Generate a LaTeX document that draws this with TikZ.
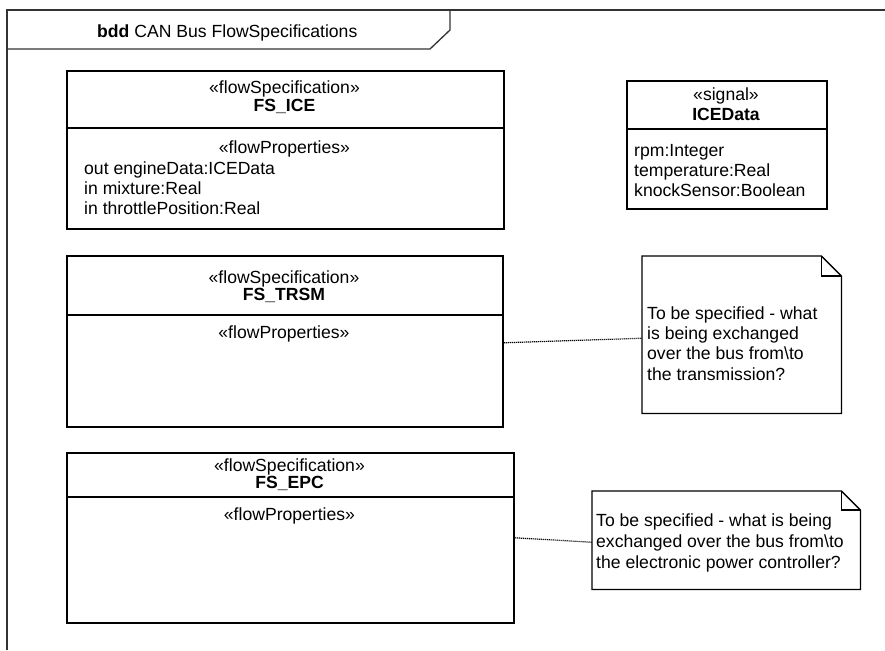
\documentclass[tikz,border=0pt]{standalone}
\usepackage{fontspec}
\setmainfont{Liberation Sans}
\usetikzlibrary{calc}
\begin{document}
\begin{tikzpicture}[x=1pt,y=-1pt,
  blk/.style={draw=black, line width=1.6pt, anchor=north west, inner sep=0pt, fill=white},
  notebox/.style={draw=none, anchor=north west, inner sep=0pt},
  txt/.style={inner sep=0pt, anchor=base, font=\fontsize{17.6}{20}\selectfont},
  ltxt/.style={inner sep=0pt, anchor=base west, font=\fontsize{17.6}{20}\selectfont},
  btxt/.style={inner sep=0pt, anchor=base, font=\fontsize{17.6}{20}\selectfont\bfseries},
  sep/.style={line width=1.3pt},
  noteline/.style={draw=black, line width=1.3pt},
  link/.style={line width=1.2pt, dash pattern=on 1.2pt off 0.8pt}]
\useasboundingbox (0,0) rectangle (885,650);
% frame
\coordinate (fTL) at (7,10);
\coordinate (fTR) at (885,10);
\coordinate (fBL) at (7,650);
\draw[line width=1.3pt, black!80] (fTR) -- (fTL) -- (fBL);
\draw[line width=1.3pt, black!80] (7,49) -- (430,49) -- (450,30) -- (450,10);
\node[ltxt] (title) at (97,38) {\textbf{bdd} CAN Bus FlowSpecifications};

% FS_ICE
\node[blk, minimum width=437pt, minimum height=158pt] (ice) at (66,70) {};
\draw[sep] (66,128) -- (503,128);
\node[txt] (iceS) at (284.5,94) {«flowSpecification»};
\node[btxt] (iceN) at (284.5,112) {FS\_ICE};
\node[txt] (iceP) at (284.5,153) {«flowProperties»};
\node[ltxt] (ice1) at (84,174) {out engineData:ICEData};
\node[ltxt] (ice2) at (84,194) {in mixture:Real};
\node[ltxt] (ice3) at (84,214) {in throttlePosition:Real};

% ICEData signal
\node[blk, minimum width=200pt, minimum height=128pt] (sig) at (626,80) {};
\draw[sep] (626,129) -- (826,129);
\node[txt] (sigS) at (726,100) {«signal»};
\node[btxt] (sigN) at (726,121) {ICEData};
\node[ltxt] (sig1) at (634,156) {rpm:Integer};
\node[ltxt] (sig2) at (634,176) {temperature:Real};
\node[ltxt] (sig3) at (634,196) {knockSensor:Boolean};

% FS_TRSM
\node[blk, minimum width=436pt, minimum height=171pt] (trsm) at (66,255) {};
\draw[sep] (66,315) -- (502,315);
\node[txt] (trsmS) at (284,283) {«flowSpecification»};
\node[btxt] (trsmN) at (284,300) {FS\_TRSM};
\node[txt] (trsmP) at (284,338) {«flowProperties»};

% FS_EPC
\node[blk, minimum width=447pt, minimum height=170pt] (epc) at (66,452) {};
\draw[sep] (66,497) -- (513,497);
\node[txt] (epcS) at (289.5,471) {«flowSpecification»};
\node[btxt] (epcN) at (289.5,488) {FS\_EPC};
\node[txt] (epcP) at (289.5,520) {«flowProperties»};

% Note 1
\node[notebox, minimum width=199pt, minimum height=157pt] (n1) at (642,256) {};
\draw[noteline, fill=white] (n1.north west) -- ($(n1.north east)+(-20,0)$) -- ($(n1.north east)+(0,20)$) -- (n1.south east) -- (n1.south west) -- cycle;
\draw[noteline] ($(n1.north east)+(-20,0)$) -- ($(n1.north east)+(-20,20)$) -- ($(n1.north east)+(0,20)$);
\node[ltxt] (n1a) at (647,319) {To be specified - what};
\node[ltxt] (n1b) at (647,339) {is being exchanged};
\node[ltxt] (n1c) at (647,359) {over the bus from\textbackslash to};
\node[ltxt] (n1d) at (647,380) {the transmission?};

% Note 2
\node[notebox, minimum width=268pt, minimum height=98pt] (n2) at (592,491) {};
\draw[noteline, fill=white] (n2.north west) -- ($(n2.north east)+(-19,0)$) -- ($(n2.north east)+(0,19)$) -- (n2.south east) -- (n2.south west) -- cycle;
\draw[noteline] ($(n2.north east)+(-19,0)$) -- ($(n2.north east)+(-19,19)$) -- ($(n2.north east)+(0,19)$);
\node[ltxt] (n2a) at (596,526) {To be specified - what is being};
\node[ltxt] (n2b) at (596,547) {exchanged over the bus from\textbackslash to};
\node[ltxt] (n2c) at (596,568) {the electronic power controller?};

% connectors
\draw[link] ($(trsm.east)+(0,1.5)$) -- ($(n1.west)+(0,3.5)$);
\draw[link] (epc.east) -- ($(n2.west)+(0,2)$);
\end{tikzpicture}
\end{document}
